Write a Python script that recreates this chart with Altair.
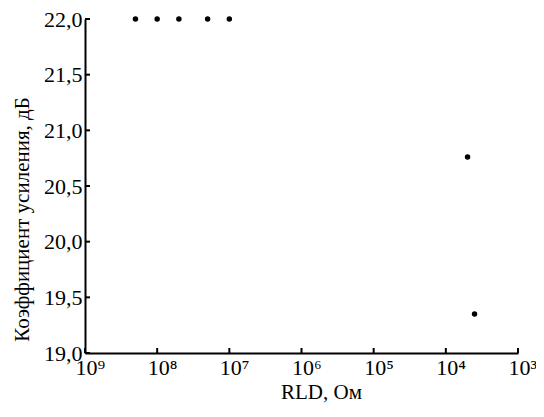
import altair as alt
import pandas as pd

rld = [2e8, 1e8, 5e7, 2e7, 1e7, 5e3, 4e3]
gain = [22.0, 22.0, 22.0, 22.0, 22.0, 20.76, 19.35]

x_ticks = [1e9, 1e8, 1e7, 1e6, 1e5, 1e4, 1e3]
y_ticks = [19.0, 19.5, 20.0, 20.5, 21.0, 21.5, 22.0]

df = pd.DataFrame({"rld": rld, "gain": gain})
dfx = pd.DataFrame({"t": x_ticks})
dfy = pd.DataFrame({"t": y_ticks})

LEFT, TOP = 77, 11
W, H = 433, 334
TOTAL_H = 396
FONT = "Liberation Serif"

xscale = alt.Scale(type="log", domain=[1e3, 1e9], reverse=True)
yscale = alt.Scale(domain=[19, 22])

sup = "{'0':'⁰','1':'¹','2':'²','3':'³','4':'⁴','5':'⁵','6':'⁶','7':'⁷','8':'⁸','9':'⁹'}"

points = alt.Chart(df).mark_circle(size=30, color="black", opacity=1).encode(
    x=alt.X("rld:Q", scale=xscale,
            axis=alt.Axis(values=x_ticks, title="RLD, Ом", tickSize=0,
                          labelExpr=f"'10' + {sup}[format(log(datum.value)/log(10), '.0f')]",
                          labelFont=FONT, labelFontSize=22, titleFont=FONT,
                          labelAlign="left", labelOffset=-10, labelFlush=False,
                          labelPadding=4, titleX=236, titlePadding=3,
                          grid=False)),
    y=alt.Y("gain:Q", scale=yscale,
            axis=alt.Axis(values=y_ticks, title="Коэффициент усиления, дБ", tickSize=0,
                          labelExpr="replace(format(datum.value, '.1f'), '.', ',')",
                          labelFont=FONT, labelFontSize=22, titleFont=FONT,
                          labelPadding=3, titleY=200, titleX=-63,
                          titleBaseline="middle", titleAngle=-90, grid=False)),
)

xt = alt.Chart(dfx).mark_rule(color="black", strokeWidth=2).encode(
    x=alt.X("t:Q", scale=xscale), y=alt.value(H), y2=alt.value(H - 5))
yt = alt.Chart(dfy).mark_rule(color="black", strokeWidth=2).encode(
    y=alt.Y("t:Q", scale=yscale), x=alt.value(0), x2=alt.value(5))

chart = alt.layer(xt, yt, points).properties(
    width=W, height=H,
    autosize=alt.AutoSizeParams(type="none"),
    padding={"left": LEFT, "top": TOP, "right": 528 - LEFT - W, "bottom": TOTAL_H - TOP - H},
).configure_view(stroke=None).configure_axis(
    domainColor="black", domainWidth=2, labelFont=FONT, titleFont=FONT,
    labelFontSize=22, titleFontSize=21, labelColor="black", titleColor="black",
    titleFontWeight="normal",
)

chart.save("out.html", embed_options={"renderer": "svg", "actions": False})
